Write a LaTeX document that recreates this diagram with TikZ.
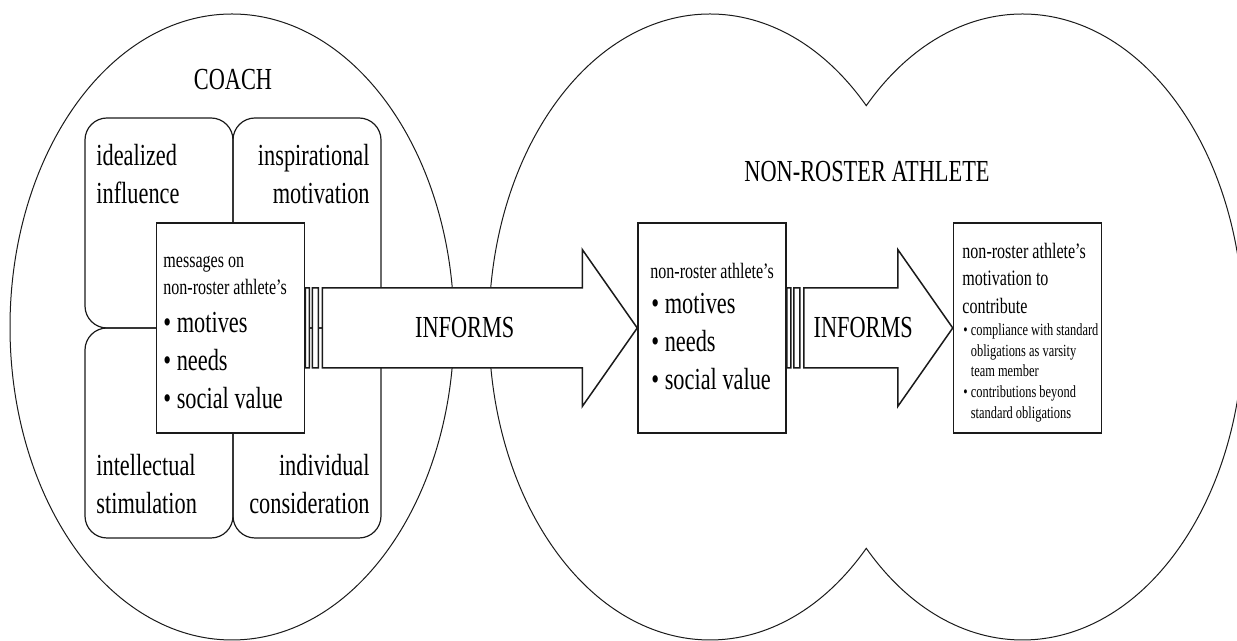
\documentclass[tikz,border=0pt]{standalone}
\usepackage{fontspec}
\setmainfont{Liberation Serif}[FakeStretch=0.73]
\usetikzlibrary{calc}

% Struts that fix the top of the first line of a label
\newcommand{\bigtop}{\rule{0pt}{15pt}}
\newcommand{\smalltop}{\rule{0pt}{11pt}}
\newcommand{\tinytop}{\rule{0pt}{8.5pt}}

% Striped block arrow from node #1 to node #2, label named #3
\newcommand{\informsarrow}[3]{%
  \filldraw[arrowBody] let \p1=(#1.east), \p2=(#2.west) in
    (\x1,\y1+20pt) rectangle (\x1+2pt,\y1-20pt)
    (\x1+3.5pt,\y1+20pt) rectangle (\x1+6.5pt,\y1-20pt)
    (\x1+8.5pt,\y1+20pt) -- (\x2-27.5pt,\y1+20pt) -- (\x2-27.5pt,\y1+39.25pt)
      -- (\x2,\y2) -- (\x2-27.5pt,\y1-39.25pt) -- (\x2-27.5pt,\y1-20pt)
      -- (\x1+8.5pt,\y1-20pt) -- cycle
    ({(\x1+\x2)/2-3.25pt},\y1) node[bigText] (#3) {INFORMS};%
}

\begin{document}
\begin{tikzpicture}[x=0.5pt, y=0.5pt,
    lobe/.style={draw=lineColour, line width=0.5pt},
    quadBox/.style={draw=lineColour, line width=0.6pt, rounded corners=11pt,
      minimum width=74pt, minimum height=105pt, inner sep=0pt},
    textBox/.style={draw=lineColour, fill=white, line width=0.75pt,
      minimum width=74pt, minimum height=105pt, inner sep=0pt},
    arrowBody/.style={draw=lineColour, fill=white, line width=0.75pt},
    bigText/.style={inner sep=0pt, align=left, font=\fontsize{15.3}{19}\selectfont},
    smallText/.style={inner sep=0pt, align=left, font=\fontsize{11}{13.75}\selectfont},
    tinyText/.style={inner sep=0pt, align=left, font=\fontsize{8.5}{10.4}\selectfont}]

    % Define colours
    \definecolor{lineColour}{HTML}{1A1A1A}

    % Fix the page size
    \useasboundingbox (0,0) rectangle (1237,641);
    \clip (0,0) rectangle (1237,641);

    % Draw the coach ellipse
    \draw[lobe] (232,314) ellipse [x radius=111pt, y radius=156.5pt];
    \node[bigText, anchor=base] (coach) at (233,551) {COACH};

    % Draw the athlete shape (two joined ellipses)
    \coordinate (leftLobe) at (710,314);
    \draw[lobe] ($(leftLobe)+(45:110.5pt and 156.5pt)$)
        arc[start angle=45, end angle=315, x radius=110.5pt, y radius=156.5pt]
        arc[start angle=225, end angle=495, x radius=110.5pt, y radius=156.5pt] -- cycle;
    \node[bigText, anchor=base] (athlete) at (867,459) {NON-ROSTER ATHLETE};

    % Draw the four leadership quadrants
    \node[quadBox] (idealized) at (159,418) {};
    \node[quadBox] (inspiration) at (307,418) {};
    \node[quadBox] (intellect) at (159,208) {};
    \node[quadBox] (individual) at (307,208) {};

    % Label the quadrants
    \node[bigText, anchor=north west] (idealizedText) at (96,506) {\bigtop idealized\\influence};
    \node[bigText, align=right, anchor=north east] (inspirationText) at (370,506) {\bigtop inspirational\\motivation};
    \node[bigText, anchor=north west] (intellectText) at (96,196) {\bigtop intellectual\\stimulation};
    \node[bigText, align=right, anchor=north east] (individualText) at (370,196) {\bigtop individual\\consideration};

    % Draw the three boxes
    \node[textBox] (messages) at (230.5,313) {};
    \node[textBox] (needs) at (712,313) {};
    \node[textBox] (motivation) at (1027.5,313) {};

    % Fill the boxes
    \node[smallText, anchor=north west] (messagesHead) at (163,396) {\smalltop messages on\\non-roster athlete’s};
    \node[bigText, anchor=north west] (messagesList) at (163,339) {\bigtop • motives\\• needs\\• social value};
    \node[smallText, anchor=north west] (needsHead) at (650,385) {\smalltop non-roster athlete’s};
    \node[bigText, anchor=north west] (needsList) at (651,358) {\bigtop • motives\\• needs\\• social value};
    \node[smallText, anchor=north west] (motivationHead) at (962,405) {\smalltop non-roster athlete’s\\motivation to\\contribute};
    \node[tinyText, anchor=north west] (motivationList) at (963,323) {\tinytop •~compliance with standard\\\hphantom{•~}obligations as varsity\\\hphantom{•~}team member\\•~contributions beyond\\\hphantom{•~}standard obligations};

    % Draw the arrows between the boxes
    \informsarrow{messages}{needs}{informsOne}
    \informsarrow{needs}{motivation}{informsTwo}

\end{tikzpicture}
\end{document}
